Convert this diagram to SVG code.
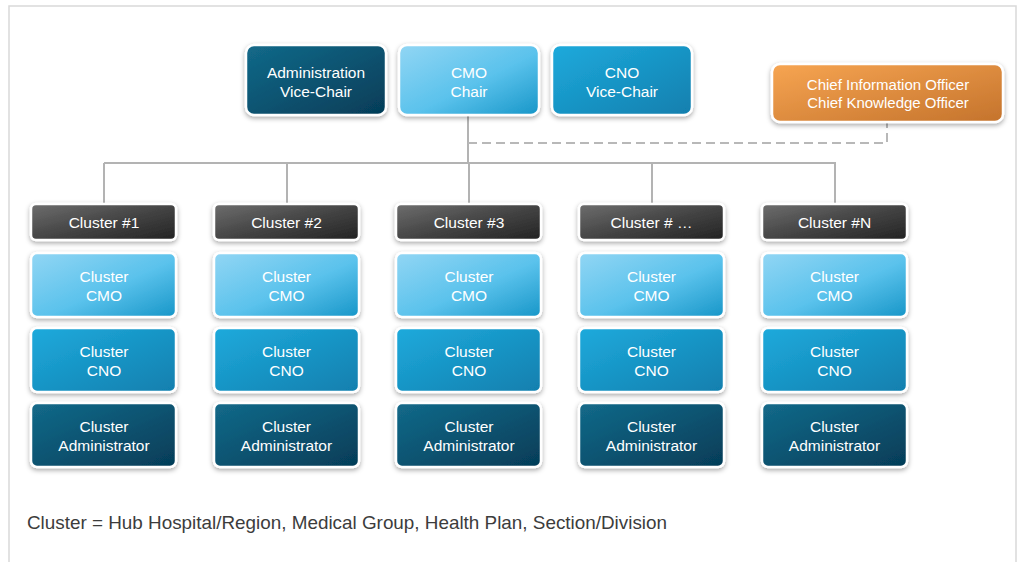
<svg xmlns="http://www.w3.org/2000/svg" width="1019" height="562" viewBox="0 0 1019 562">
<defs>
<linearGradient id="gDark" x1="0" y1="0" x2="1" y2="1"><stop offset="0" stop-color="#136a8a"/><stop offset="1" stop-color="#053c57"/></linearGradient>
<linearGradient id="gLight" x1="0" y1="0" x2="1" y2="1"><stop offset="0" stop-color="#92d6f4"/><stop offset="0.55" stop-color="#5ac2ec"/><stop offset="1" stop-color="#1796c8"/></linearGradient>
<linearGradient id="gMid" x1="0" y1="0" x2="1" y2="1"><stop offset="0" stop-color="#1eaadc"/><stop offset="1" stop-color="#117fae"/></linearGradient>
<linearGradient id="gGray" x1="0" y1="0" x2="1" y2="1"><stop offset="0" stop-color="#6e6e6e"/><stop offset="0.5" stop-color="#454545"/><stop offset="1" stop-color="#222"/></linearGradient>
<linearGradient id="gOrange" x1="0" y1="0" x2="1" y2="1"><stop offset="0" stop-color="#f7a552"/><stop offset="1" stop-color="#c4732c"/></linearGradient>
<filter id="sh" x="-20%" y="-20%" width="140%" height="150%"><feDropShadow dx="0" dy="2" stdDeviation="2.5" flood-color="#000" flood-opacity="0.35"/></filter>
</defs>
<style>
.box{stroke:#fff;stroke-width:2.5;filter:url(#sh)}
.dark{fill:url(#gDark)}
.light{fill:url(#gLight)}
.mid{fill:url(#gMid)}
.gray{fill:url(#gGray)}
.orange{fill:url(#gOrange)}
.t{font-family:"Liberation Sans",Arial,sans-serif;font-size:15.5px;fill:#fff;text-anchor:middle}
.to{font-family:"Liberation Sans",Arial,sans-serif;font-size:15px;fill:#fff;text-anchor:middle}
.line{stroke:#b3b3b3;stroke-width:2;fill:none}
.dash{stroke:#b8b8b8;stroke-width:2;fill:none;stroke-dasharray:9,5}
.frame{stroke:#d9d9d9;stroke-width:1.5;fill:none}
</style>
<rect width="1019" height="562" fill="#fff"/>
<path class="frame" d="M9,562 V6 H1016 V562"/>
<g id="connectors">
<path class="line" d="M468,116 V163"/>
<path class="line" d="M104,163 H836"/>
<path class="line" d="M104,163 V204 M287,163 V204 M469,163 V204 M652,163 V204 M835,163 V204"/>
<path class="dash" d="M468,143 H887 V122"/>
</g>
<g id="admin-vice-chair"><rect class="box dark" x="246" y="45" width="140" height="70" rx="8"/><text class="t" x="316" y="77.5">Administration</text><text class="t" x="316" y="96.5">Vice-Chair</text></g>
<g id="cmo-chair"><rect class="box light" x="399" y="45" width="140" height="70" rx="8"/><text class="t" x="469" y="77.5">CMO</text><text class="t" x="469" y="96.5">Chair</text></g>
<g id="cno-vice-chair"><rect class="box mid" x="552" y="45" width="140" height="70" rx="8"/><text class="t" x="622" y="77.5">CNO</text><text class="t" x="622" y="96.5">Vice-Chair</text></g>
<g id="cio-cko"><rect class="box orange" x="772" y="64" width="231" height="58" rx="8"/><text class="to" x="888" y="89.5">Chief Information Officer</text><text class="to" x="888" y="108">Chief Knowledge Officer</text></g>
<g id="col1">
<g id="cluster1-header"><rect class="box gray" x="31" y="204" width="145" height="36" rx="5"/><text class="t" x="104" y="227.5">Cluster #1</text></g>
<g id="cluster1-cmo"><rect class="box light" x="31" y="253" width="145" height="64" rx="6"/><text class="t" x="104" y="282">Cluster</text><text class="t" x="104" y="301">CMO</text></g>
<g id="cluster1-cno"><rect class="box mid" x="31" y="328" width="145" height="64" rx="6"/><text class="t" x="104" y="356.5">Cluster</text><text class="t" x="104" y="375.5">CNO</text></g>
<g id="cluster1-admin"><rect class="box dark" x="31" y="403" width="145" height="64" rx="6"/><text class="t" x="104" y="431.5">Cluster</text><text class="t" x="104" y="450.5">Administrator</text></g>
</g>
<g id="col2">
<g id="cluster2-header"><rect class="box gray" x="214" y="204" width="145" height="36" rx="5"/><text class="t" x="286.5" y="227.5">Cluster #2</text></g>
<g id="cluster2-cmo"><rect class="box light" x="214" y="253" width="145" height="64" rx="6"/><text class="t" x="286.5" y="282">Cluster</text><text class="t" x="286.5" y="301">CMO</text></g>
<g id="cluster2-cno"><rect class="box mid" x="214" y="328" width="145" height="64" rx="6"/><text class="t" x="286.5" y="356.5">Cluster</text><text class="t" x="286.5" y="375.5">CNO</text></g>
<g id="cluster2-admin"><rect class="box dark" x="214" y="403" width="145" height="64" rx="6"/><text class="t" x="286.5" y="431.5">Cluster</text><text class="t" x="286.5" y="450.5">Administrator</text></g>
</g>
<g id="col3">
<g id="cluster3-header"><rect class="box gray" x="396" y="204" width="145" height="36" rx="5"/><text class="t" x="469" y="227.5">Cluster #3</text></g>
<g id="cluster3-cmo"><rect class="box light" x="396" y="253" width="145" height="64" rx="6"/><text class="t" x="469" y="282">Cluster</text><text class="t" x="469" y="301">CMO</text></g>
<g id="cluster3-cno"><rect class="box mid" x="396" y="328" width="145" height="64" rx="6"/><text class="t" x="469" y="356.5">Cluster</text><text class="t" x="469" y="375.5">CNO</text></g>
<g id="cluster3-admin"><rect class="box dark" x="396" y="403" width="145" height="64" rx="6"/><text class="t" x="469" y="431.5">Cluster</text><text class="t" x="469" y="450.5">Administrator</text></g>
</g>
<g id="col4">
<g id="cluster4-header"><rect class="box gray" x="579" y="204" width="145" height="36" rx="5"/><text class="t" x="651.5" y="227.5">Cluster # …</text></g>
<g id="cluster4-cmo"><rect class="box light" x="579" y="253" width="145" height="64" rx="6"/><text class="t" x="651.5" y="282">Cluster</text><text class="t" x="651.5" y="301">CMO</text></g>
<g id="cluster4-cno"><rect class="box mid" x="579" y="328" width="145" height="64" rx="6"/><text class="t" x="651.5" y="356.5">Cluster</text><text class="t" x="651.5" y="375.5">CNO</text></g>
<g id="cluster4-admin"><rect class="box dark" x="579" y="403" width="145" height="64" rx="6"/><text class="t" x="651.5" y="431.5">Cluster</text><text class="t" x="651.5" y="450.5">Administrator</text></g>
</g>
<g id="col5">
<g id="clusterN-header"><rect class="box gray" x="762" y="204" width="145" height="36" rx="5"/><text class="t" x="834.5" y="227.5">Cluster #N</text></g>
<g id="clusterN-cmo"><rect class="box light" x="762" y="253" width="145" height="64" rx="6"/><text class="t" x="834.5" y="282">Cluster</text><text class="t" x="834.5" y="301">CMO</text></g>
<g id="clusterN-cno"><rect class="box mid" x="762" y="328" width="145" height="64" rx="6"/><text class="t" x="834.5" y="356.5">Cluster</text><text class="t" x="834.5" y="375.5">CNO</text></g>
<g id="clusterN-admin"><rect class="box dark" x="762" y="403" width="145" height="64" rx="6"/><text class="t" x="834.5" y="431.5">Cluster</text><text class="t" x="834.5" y="450.5">Administrator</text></g>
</g>
<text id="legend" x="27" y="529" font-family="'Liberation Sans',Arial,sans-serif" font-size="18.5" fill="#3c3c3c" textLength="640" lengthAdjust="spacingAndGlyphs">Cluster = Hub Hospital/Region, Medical Group, Health Plan, Section/Division</text>
</svg>
